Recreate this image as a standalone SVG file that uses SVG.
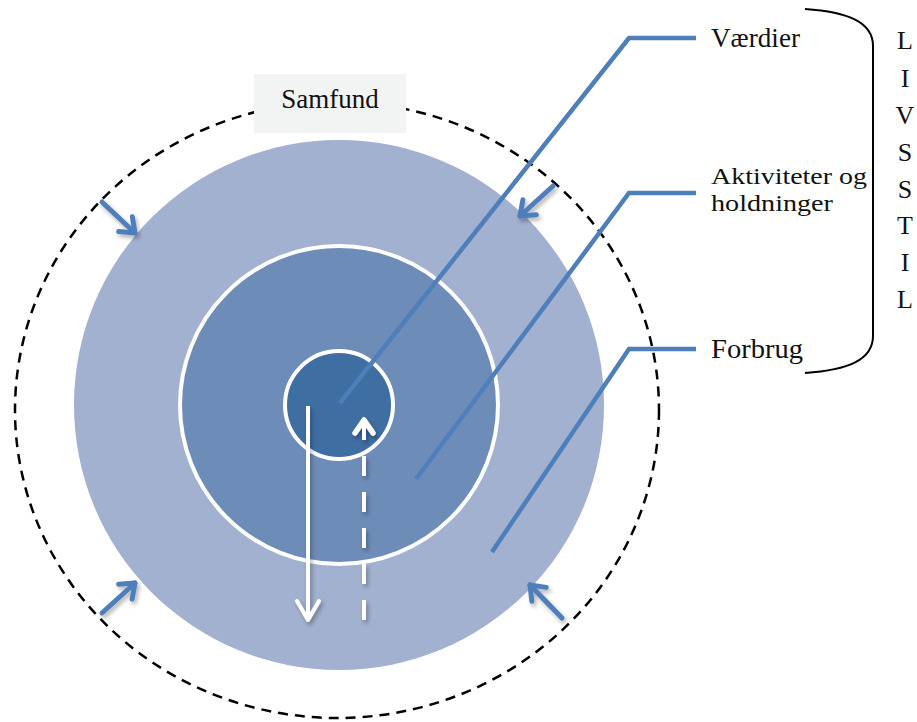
<svg xmlns="http://www.w3.org/2000/svg" width="917" height="722" viewBox="0 0 917 722">
  <style>
    .lbl { font-family: "Liberation Serif", "Times New Roman", serif; font-size: 27px; fill: #111; }
    .lbl2 { font-family: "Liberation Serif", "Times New Roman", serif; font-size: 23px; fill: #111; }
    .ls { font-family: "Liberation Serif", "Times New Roman", serif; font-size: 26px; fill: #111; text-anchor: middle; }
    .leader { fill: none; stroke: #4F7FBB; stroke-width: 4.5; stroke-linejoin: miter; }
    .barrow { fill: none; stroke: #4F7FBB; stroke-width: 5; stroke-linecap: round; }
    .warrow { fill: none; stroke: #FFFFFF; stroke-width: 4; }
  </style>
  <defs>
    <filter id="sh" x="-50%" y="-50%" width="200%" height="200%">
      <feDropShadow dx="2" dy="3" stdDeviation="2" flood-color="#000" flood-opacity="0.3"/>
    </filter>
    <marker id="hb" markerUnits="userSpaceOnUse" viewBox="-20 -14 26 28" refX="0" refY="0" markerWidth="26" markerHeight="28" orient="auto" overflow="visible">
      <path d="M-13,-10 L0,0 L-13,10" fill="none" stroke="#4F7FBB" stroke-width="5" stroke-linecap="round" stroke-linejoin="round"/>
    </marker>
    <marker id="hw" markerUnits="userSpaceOnUse" viewBox="-24 -14 28 28" refX="0" refY="0" markerWidth="28" markerHeight="28" orient="auto" overflow="visible">
      <path d="M-19,-11 L0,0 L-19,11" fill="none" stroke="#FFFFFF" stroke-width="4" stroke-linecap="round" stroke-linejoin="round"/>
    </marker>
    <marker id="hw2" markerUnits="userSpaceOnUse" viewBox="-20 -14 24 28" refX="0" refY="0" markerWidth="24" markerHeight="28" orient="auto" overflow="visible">
      <path d="M-13,-9 L0,0 L-13,9" fill="none" stroke="#FFFFFF" stroke-width="5.5" stroke-linecap="round" stroke-linejoin="round"/>
    </marker>
  </defs>

  <g id="samfund-ring">
    <ellipse cx="337" cy="410" rx="322" ry="308" fill="none" stroke="#000" stroke-width="2.5" stroke-dasharray="10 7"/>
  </g>

  <g id="forbrug-circle">
    <circle cx="339" cy="405" r="265" fill="#A1B1CF"/>
  </g>
  <g id="aktiviteter-circle">
    <circle cx="339" cy="405" r="159" fill="#6E8CB8" stroke="#FFFFFF" stroke-width="4"/>
  </g>
  <g id="vaerdier-circle">
    <circle cx="339" cy="405" r="54" fill="#3F6EA3" stroke="#FFFFFF" stroke-width="4"/>
  </g>

  <g id="samfund">
    <rect x="254" y="74" width="152" height="59" fill="#F2F3F3"/>
    <text class="lbl" x="330" y="108" text-anchor="middle">Samfund</text>
  </g>

  <g id="connectors">
    <path class="leader" d="M340,403 L629,38 L696,38"/>
    <path class="leader" d="M416,479 L629,193 L696,193"/>
    <path class="leader" d="M492,552 L629,349 L696,349"/>

    <g filter="url(#sh)">
      <line class="barrow" x1="102" y1="202" x2="135" y2="233" marker-end="url(#hb)"/>
      <line class="barrow" x1="553" y1="186" x2="520" y2="216" marker-end="url(#hb)"/>
      <line class="barrow" x1="102" y1="613" x2="135" y2="583" marker-end="url(#hb)"/>
      <line class="barrow" x1="562" y1="618" x2="530" y2="585" marker-end="url(#hb)"/>
    </g>

    <g filter="url(#sh)">
      <line class="warrow" x1="308" y1="406" x2="308" y2="620" marker-end="url(#hw)"/>
      <line class="warrow" x1="364" y1="620" x2="364" y2="420" stroke-width="5" stroke-dasharray="20 16" marker-end="url(#hw2)"/>
    </g>
  </g>

  <g id="label-vaerdier">
    <text class="lbl" x="711" y="47" textLength="89" lengthAdjust="spacingAndGlyphs">Værdier</text>
  </g>
  <g id="label-aktiviteter">
    <text class="lbl2" x="711" y="184" textLength="156" lengthAdjust="spacingAndGlyphs">Aktiviteter og</text>
    <text class="lbl2" x="711" y="211" textLength="122" lengthAdjust="spacingAndGlyphs">holdninger</text>
  </g>
  <g id="label-forbrug">
    <text class="lbl" x="711" y="358" textLength="92" lengthAdjust="spacingAndGlyphs">Forbrug</text>
  </g>

  <g id="livsstil">
    <path d="M805,9 C848,12 873,22 873,46 L873,336 C873,360 848,370 805,373" fill="none" stroke="#000" stroke-width="2"/>
    <text class="ls" x="905" y="49">L</text>
    <text class="ls" x="905" y="87">I</text>
    <text class="ls" x="905" y="124">V</text>
    <text class="ls" x="905" y="161">S</text>
    <text class="ls" x="905" y="198">S</text>
    <text class="ls" x="905" y="234">T</text>
    <text class="ls" x="905" y="271">I</text>
    <text class="ls" x="905" y="308">L</text>
  </g>
</svg>
